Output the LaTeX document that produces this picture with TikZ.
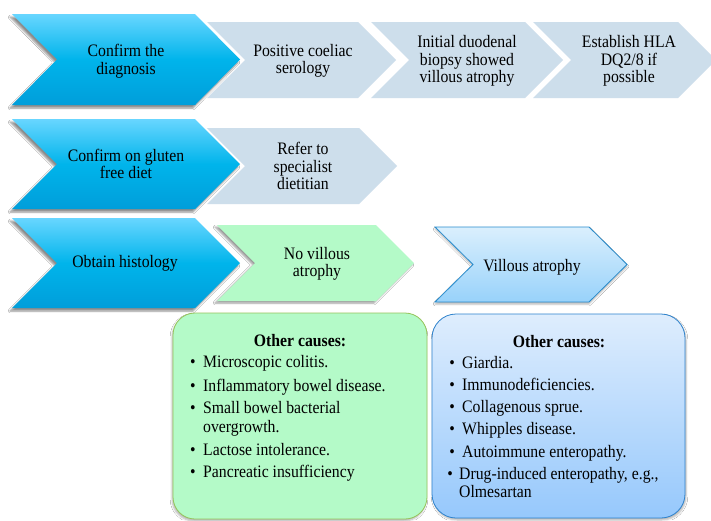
\documentclass[tikz,border=0pt]{standalone}
\usepackage{fontspec}
\setmainfont[FakeStretch=0.9]{Liberation Serif}
\usetikzlibrary{shadows,shadows.blur}
\definecolor{bluetop}{RGB}{104,214,255}
\definecolor{bluemid}{RGB}{0,180,235}
\definecolor{bluebot}{RGB}{0,158,218}
\definecolor{grayfill}{RGB}{205,222,235}
\definecolor{greenfill}{RGB}{180,250,200}
\definecolor{greenline}{RGB}{150,196,90}
\definecolor{vtop}{RGB}{218,239,253}
\definecolor{vbot}{RGB}{152,210,250}
\definecolor{vline}{RGB}{40,140,205}
\definecolor{btop}{RGB}{222,237,253}
\definecolor{bbot}{RGB}{150,200,252}
\definecolor{bline}{RGB}{45,130,205}
\newcommand{\chevshape}[6]{%
  \path[#6] (#1,#3) -- ({#2-#5},#3) -- (#2,{(#3+#4)/2}) -- ({#2-#5},#4) -- (#1,#4) -- ({#1+#5},{(#3+#4)/2}) -- cycle;}
\tikzset{
  bluechev/.style={top color=bluetop, bottom color=bluebot, middle color=bluemid,
    blur shadow={shadow xshift=-2pt, shadow yshift=-3pt, shadow blur steps=6, shadow opacity=45}},
  graychev/.style={fill=grayfill},
  greenchev/.style={fill=greenfill,
    blur shadow={shadow xshift=-2pt, shadow yshift=-2pt, shadow blur steps=6, shadow opacity=40}},
  vchev/.style={top color=vtop, bottom color=vbot, draw=vline, line width=0.8pt,
    blur shadow={shadow xshift=0pt, shadow yshift=-2pt, shadow blur steps=4, shadow opacity=30}},
  txt/.style={align=center, inner sep=0pt, font=\fontsize{17.5}{17.5}\selectfont},
  itm/.style={anchor=base west, inner sep=0pt, font=\fontsize{17.5}{19}\selectfont},
  bul/.style={anchor=base, inner sep=0pt, font=\fontsize{17.5}{19}\selectfont},
  ttl/.style={anchor=base, inner sep=0pt, font=\fontsize{17.5}{19}\selectfont\bfseries},
}
\begin{document}
\begin{tikzpicture}[x=1pt,y=-1pt]
\path[use as bounding box, fill=white] (0,0) rectangle (711,520);
% row 1
\chevshape{533}{716}{22}{98}{38}{graychev}
\chevshape{371}{563}{22}{98}{38}{graychev}
\chevshape{207}{396}{22}{98}{38}{graychev}
\chevshape{12}{240}{14}{105}{45}{bluechev}
\node[txt] (confirm) at (126,61) {Confirm the\\diagnosis};
\node[txt] (serology) at (303,61) {Positive coeliac\\serology};
\node[txt] (biopsy) at (467,61) {Initial duodenal\\biopsy showed\\villous atrophy};
\node[txt] (hla) at (629,61) {Establish HLA\\DQ2/8 if\\possible};
% row 2
\chevshape{207}{397}{128}{204}{38}{graychev}
\chevshape{12}{240}{119}{209}{45}{bluechev}
\node[txt] (gfd) at (126,164) {Confirm on gluten\\free diet};
\node[txt] (diet) at (303,166) {Refer to\\specialist\\dietitian};
% row 3
\chevshape{217}{414}{225}{301}{38}{greenchev}
\chevshape{12}{240}{218}{308}{45}{bluechev}
\chevshape{435}{627}{227}{302}{38}{vchev}
\node[txt] (histo) at (125,263) {Obtain histology};
\node[txt] (novil) at (317,264) {No villous\\atrophy};
\node[txt] (vil) at (532,267) {Villous atrophy};
% boxes
\path[fill=greenfill, draw=greenline, line width=0.8pt, rounded corners=22,
  blur shadow={shadow xshift=-1pt, shadow yshift=-2pt, shadow blur steps=4, shadow opacity=30}]
  (173,313) rectangle (427,519);
\path[top color=btop, bottom color=bbot, draw=bline, line width=0.8pt, rounded corners=24,
  blur shadow={shadow xshift=1pt, shadow yshift=-2pt, shadow blur steps=4, shadow opacity=30}]
  (432,314) rectangle (685,518);
% green box text
\node[ttl] (gtitle) at (300,346) {Other causes:};
\node[bul] (gb1) at (193,367) {\textbullet};
\node[itm] (g1) at (203,367) {Microscopic colitis.};
\node[bul] (gb2) at (193,391) {\textbullet};
\node[itm] (g2) at (203,391) {Inflammatory bowel disease.};
\node[bul] (gb3) at (193,413) {\textbullet};
\node[itm] (g3) at (203,413) {Small bowel bacterial};
\node[itm] (g3b) at (203,432) {overgrowth.};
\node[bul] (gb4) at (193,455) {\textbullet};
\node[itm] (g4) at (203,455) {Lactose intolerance.};
\node[bul] (gb5) at (193,477) {\textbullet};
\node[itm] (g5) at (203,477) {Pancreatic insufficiency};
% blue box text
\node[ttl] (btitle) at (559,347) {Other causes:};
\node[bul] (bb1) at (452,368) {\textbullet};
\node[itm] (b1) at (462,368) {Giardia.};
\node[bul] (bb2) at (452,390) {\textbullet};
\node[itm] (b2) at (462,390) {Immunodeficiencies.};
\node[bul] (bb3) at (452,412) {\textbullet};
\node[itm] (b3) at (462,412) {Collagenous sprue.};
\node[bul] (bb4) at (452,434) {\textbullet};
\node[itm] (b4) at (462,434) {Whipples disease.};
\node[bul] (bb5) at (452,457) {\textbullet};
\node[itm] (b5) at (462,457) {Autoimmune enteropathy.};
\node[bul] (bb6) at (450,479) {\textbullet};
\node[itm] (b6) at (459,479) {Drug-induced enteropathy, e.g.,};
\node[itm] (b6b) at (459,497) {Olmesartan};
\end{tikzpicture}
\end{document}
